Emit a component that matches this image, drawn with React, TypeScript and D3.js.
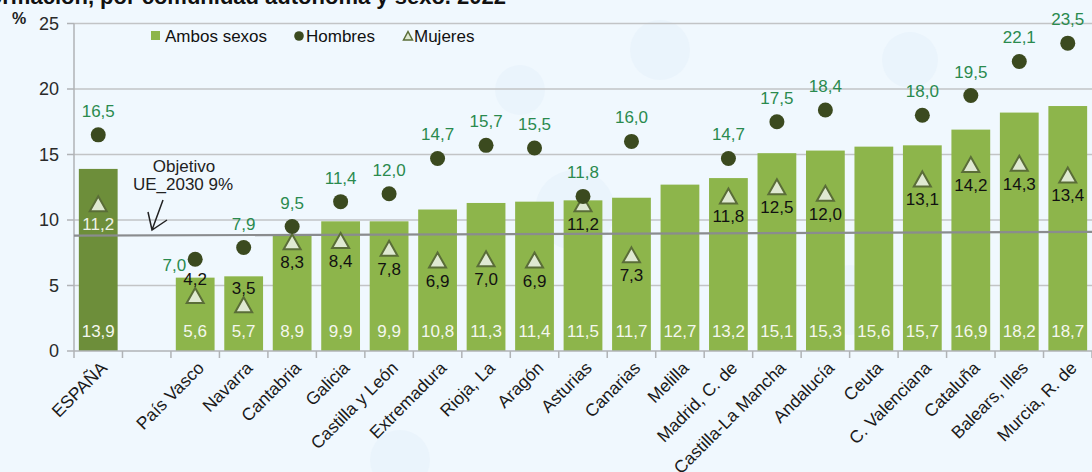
import React from 'react';
import * as d3 from 'd3';

// Abandono temprano de la educación-formación, por comunidad autónoma y sexo. 2022
const categorias = [
  'ESPAÑA', '', 'País Vasco', 'Navarra', 'Cantabria', 'Galicia', 'Castilla y León',
  'Extremadura', 'Rioja, La', 'Aragón', 'Asturias', 'Canarias', 'Melilla',
  'Madrid, C. de', 'Castilla-La Mancha', 'Andalucía', 'Ceuta', 'C. Valenciana',
  'Cataluña', 'Balears, Illes', 'Murcia, R. de',
];
const ambosSexos = [13.9, null, 5.6, 5.7, 8.9, 9.9, 9.9, 10.8, 11.3, 11.4, 11.5, 11.7, 12.7, 13.2, 15.1, 15.3, 15.6, 15.7, 16.9, 18.2, 18.7];
const hombres = [16.5, null, 7.0, 7.9, 9.5, 11.4, 12.0, 14.7, 15.7, 15.5, 11.8, 16.0, null, 14.7, 17.5, 18.4, null, 18.0, 19.5, 22.1, 23.5];
const mujeres = [11.2, null, 4.2, 3.5, 8.3, 8.4, 7.8, 6.9, 7.0, 6.9, 11.2, 7.3, null, 11.8, 12.5, 12.0, null, 13.1, 14.2, 14.3, 13.4];
const yTicks = [0, 5, 10, 15, 20, 25];
const objetivoLinea = [8.8, 9.1];

// label placement tweaks
const hombresIzquierda = new Set(['País Vasco']);
const mujeresArriba = new Set(['País Vasco', 'Navarra']);

const W = 1092;
const H = 472;
const FONT = '"Liberation Sans", Arial, sans-serif';

const fmt = (v: number) => d3.format('.1f')(v).replace('.', ',');

export default function App() {
  const x = d3.scaleBand<number>()
    .domain(categorias.map((_, i) => i))
    .range([74, 1092])
    .paddingInner(0.2)
    .paddingOuter(0.1);
  const y = d3.scaleLinear().domain([0, 25]).range([351, 23.5]);
  const step = x.step();
  const bw = x.bandwidth();
  const cx = (i: number) => (x(i) as number) + bw / 2;
  const tickXs = d3.range(categorias.length + 1).map(i => 74 + i * step);

  const tri = 'M0,-8L8.5,7L-8.5,7Z';
  const line = d3.line<number>()
    .x((_, i) => (i === 0 ? 74 : 1092))
    .y(d => y(d));

  return (
    <svg width={W} height={H} style={{ position: 'absolute', left: 0, top: 0, fontFamily: FONT }}>
      <rect width={W} height={H} fill="#f0f8fe" />
      {[[660, 50, 30], [910, 60, 28], [575, 210, 40], [850, 300, 35], [520, 90, 25], [400, 460, 30]].map(([a, b, r], i) => (
        <circle key={i} cx={a} cy={b} r={r} fill="#eaf4fc" />
      ))}

      <text x={506} y={4} textAnchor="end" fontWeight="bold" fontSize={22} fill="#111">
        Abandono temprano de la educación-formación, por comunidad autónoma y sexo. 2022
      </text>

      {/* grid */}
      {yTicks.filter(t => t > 0).map(t => (
        <line key={t} x1={74} x2={W} y1={y(t)} y2={y(t)} stroke="#c2c4c6" strokeWidth={1.5} />
      ))}

      {/* y axis */}
      <line x1={74} x2={74} y1={y(25)} y2={y(0)} stroke="#b0b3b6" strokeWidth={1.5} />
      {yTicks.map(t => (
        <g key={t}>
          <line x1={67} x2={74} y1={y(t)} y2={y(t)} stroke="#b0b3b6" strokeWidth={1.5} />
          <text x={59} y={y(t)} dy="0.36em" textAnchor="end" fontSize={18} fill="#2a2a2a">{t}</text>
        </g>
      ))}
      <text x={12} y={24} fontWeight="bold" fontSize={16} fill="#222">%</text>

      {/* bars */}
      {ambosSexos.map((v, i) => v == null ? null : (
        <g key={i}>
          <rect x={x(i)} y={y(v)} width={bw} height={y(0) - y(v)} fill={i === 0 ? '#6d8e3a' : '#8db54b'} />
          <text x={cx(i)} y={337} textAnchor="middle" fontSize={17} fill="#f4f7ee">{fmt(v)}</text>
        </g>
      ))}

      {/* objetivo */}
      <path d={line(objetivoLinea) as string} stroke="#8a8c8e" strokeWidth={2.2} fill="none" />
      <text x={184} y={172} textAnchor="middle" fontSize={17} fill="#222">Objetivo</text>
      <text x={183} y={190} textAnchor="middle" fontSize={17} fill="#222">UE_2030 9%</text>
      <path d="M163,200L152,230M148,212L152,230L167,220" stroke="#222" strokeWidth={1.5} fill="none" />

      {/* x axis */}
      <line x1={74} x2={W} y1={y(0)} y2={y(0)} stroke="#b0b3b6" strokeWidth={1.5} />
      {tickXs.map((t, i) => (
        <line key={i} x1={t} x2={t} y1={y(0)} y2={y(0) + 7} stroke="#b0b3b6" strokeWidth={1.5} />
      ))}
      {categorias.map((c, i) => (
        <text key={i} transform={`translate(${cx(i) + 10},${369}) rotate(-45)`} textAnchor="end" fontSize={17.5} fill="#1a1a1a">{c}</text>
      ))}

      {/* mujeres */}
      {mujeres.map((v, i) => v == null ? null : (
        <g key={i}>
          <path d={tri} transform={`translate(${cx(i)},${y(v)})`} fill="#dfe9d2" stroke="#5a6d38" strokeWidth={2} />
          <text x={cx(i)} y={mujeresArriba.has(categorias[i]) ? y(v) - 11 : y(v) + 26} textAnchor="middle" fontSize={17}
            fill={i === 0 ? '#eef3e6' : '#111'}>{fmt(v)}</text>
        </g>
      ))}

      {/* hombres */}
      {hombres.map((v, i) => v == null ? null : (
        <g key={i}>
          <circle cx={cx(i)} cy={y(v)} r={7.5} fill="#3b4a1f" />
          {hombresIzquierda.has(categorias[i])
            ? <text x={cx(i) - 9} y={y(v) + 12} textAnchor="end" fontSize={17} fill="#2a8a4e">{fmt(v)}</text>
            : <text x={cx(i)} y={y(v) - 18} textAnchor="middle" fontSize={17} fill="#2a8a4e">{fmt(v)}</text>}
        </g>
      ))}

      {/* legend */}
      <rect x={151} y={31} width={9} height={9} fill="#8db54b" />
      <text x={165} y={42} fontSize={17} fill="#111">Ambos sexos</text>
      <circle cx={299} cy={36} r={4.8} fill="#3b4a1f" />
      <text x={306} y={42} fontSize={17} fill="#111">Hombres</text>
      <path d="M0,-4.5L4.5,4L-4.5,4Z" transform="translate(408,36)" fill="#dfe9d2" stroke="#5a6d38" strokeWidth={1.5} />
      <text x={414} y={42} fontSize={17} fill="#111">Mujeres</text>
    </svg>
  );
}
